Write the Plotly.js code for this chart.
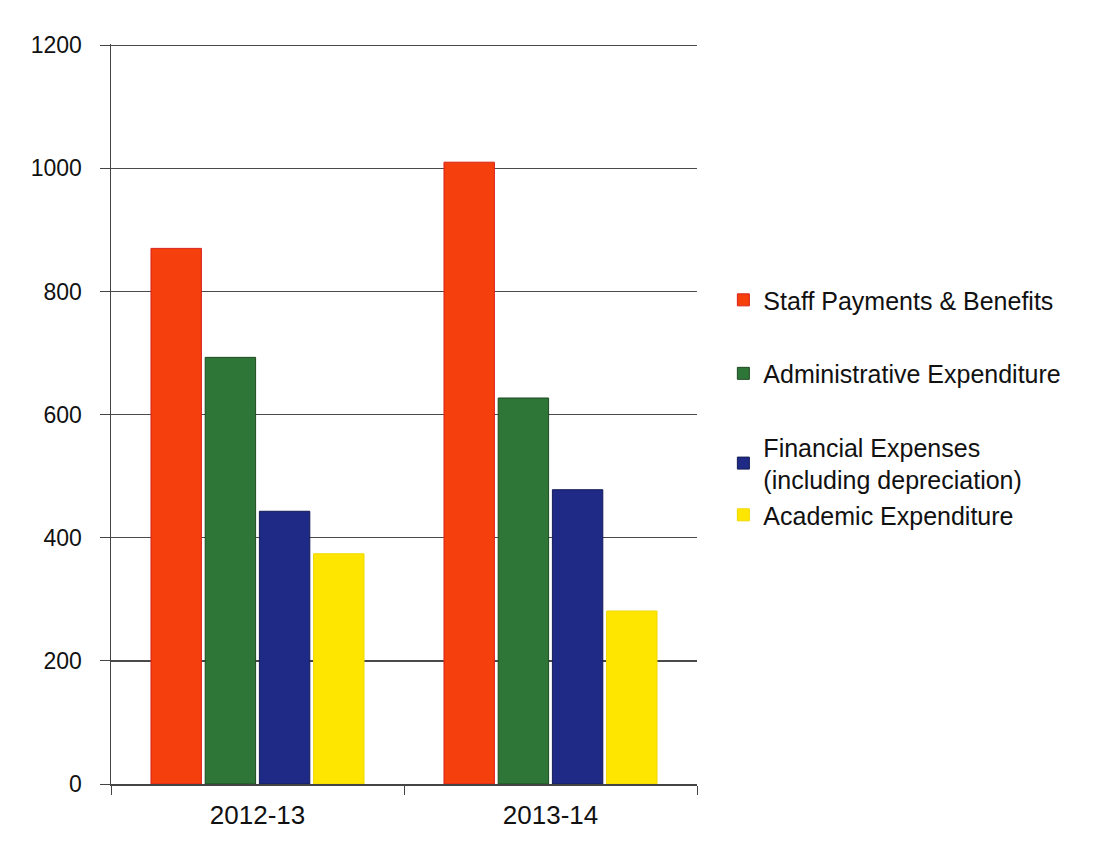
<!DOCTYPE html>
<html>
<head>
<meta charset="utf-8">
<script src="https://cdn.plot.ly/plotly-3.0.1.min.js"></script>
<style>html,body{margin:0;padding:0;background:#fff;}#chart{width:1097px;height:845px;}</style>
</head>
<body>
<div id="chart"></div>
<script>
const categories = ["2012-13", "2013-14"];
const seriesNames = ["Staff Payments & Benefits", "Administrative Expenditure", "Financial Expenses<br>(including depreciation)", "Academic Expenditure"];
const staffPayments = [870, 1010];
const adminExpenditure = [693, 627];
const financialExpenses = [443, 478];
const academicExpenditure = [374, 281];
const yTicks = [0, 200, 400, 600, 800, 1000, 1200];

const values = [staffPayments, adminExpenditure, financialExpenses, academicExpenditure];
const colors = ["#F5400E", "#2E7638", "#1E2A85", "#FFE600"];
const lineColors = ["#D8201A", "#1E4A22", "#141C55", "#F0D800"];
const groups = ["g0", "g1", "g2", "g2"];

const data = values.map((v, i) => ({
  type: "bar",
  name: seriesNames[i],
  x: categories,
  y: v,
  legendgroup: groups[i],
  marker: {color: colors[i], line: {color: lineColors[i], width: 1}}
}));

const layout = {
  width: 1097, height: 845,
  margin: {l: 111, r: 400, t: 44, b: 61},
  paper_bgcolor: "#ffffff", plot_bgcolor: "#ffffff",
  font: {family: "Liberation Sans, Arial, sans-serif", color: "#111", size: 24},
  barmode: "group",
  bargap: 0.26, bargroupgap: 0.07,
  showlegend: true,
  legend: {x: 1.045, y: 0.685, xanchor: "left", yanchor: "top", tracegroupgap: 38,
           traceorder: "grouped",
           font: {size: 25, color: "#111"}, bgcolor: "rgba(0,0,0,0)", itemwidth: 30},
  xaxis: {showline: true, linecolor: "#444", linewidth: 1.5, ticks: "outside", ticklen: 9,
          tickcolor: "#444", tickson: "boundaries", showgrid: false,
          tickfont: {size: 26}, ticklabelstandoff: 7},
  yaxis: {range: [0, 1202], tickvals: yTicks, showline: true, linecolor: "#444", linewidth: 1.5,
          ticks: "outside", ticklen: 10, tickcolor: "#444", gridcolor: "#4a4a4a", gridwidth: 1.3,
          zeroline: false, tickfont: {size: 23}, ticklabelstandoff: 13}
};

Plotly.newPlot("chart", data, layout, {displayModeBar: false, staticPlot: true});
</script>
</body>
</html>
